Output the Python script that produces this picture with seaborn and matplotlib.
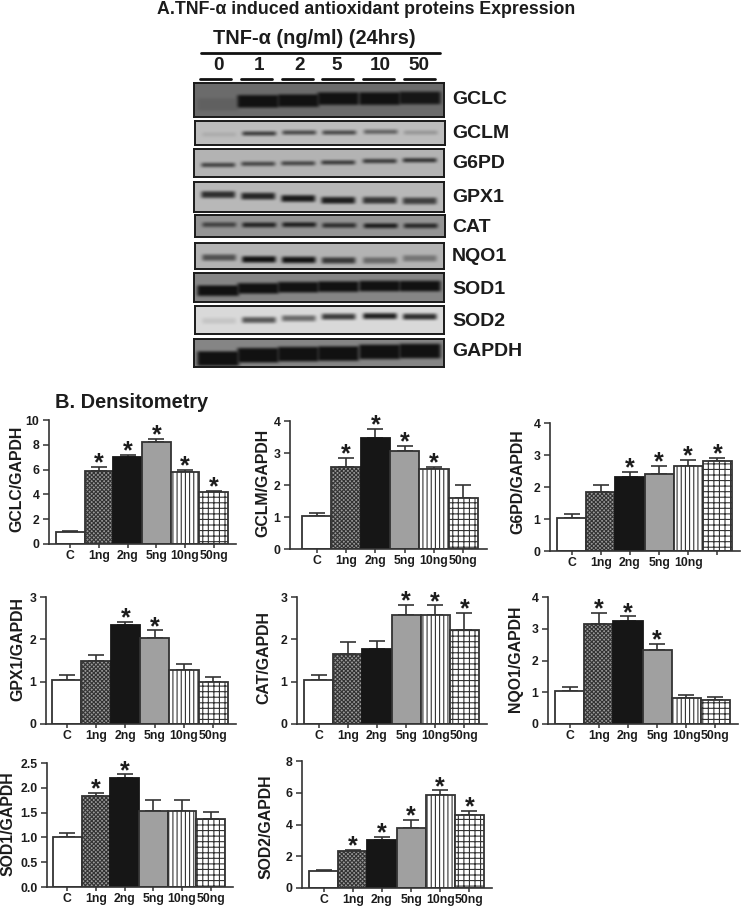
import numpy as np
import pandas as pd
import seaborn as sns
import matplotlib
matplotlib.use("Agg")
import matplotlib.pyplot as plt
from matplotlib.lines import Line2D

sns.set_theme(style="ticks")
plt.rcParams['font.family'] = ['Liberation Sans', 'DejaVu Sans']
plt.rcParams['hatch.linewidth'] = 0.8
W, H = 741, 908
INK = '#1c1c1c'
AX = '#333333'

# ---------- blot data ----------
blot_names = ['GCLC', 'GCLM', 'G6PD', 'GPX1', 'CAT', 'NQO1', 'SOD1', 'SOD2', 'GAPDH']
blot_bg = [0.42, 0.74, 0.70, 0.72, 0.58, 0.70, 0.52, 0.85, 0.52]
blot_half = [6.0, 1.8, 1.7, 3.0, 2.0, 2.8, 5.0, 2.6, 7.0]
blot_dark = [
    [0.12, 1, 1, 1, 1, 0.95],
    [0.10, 0.75, 0.68, 0.68, 0.55, 0.22],
    [0.75, 0.72, 0.72, 0.78, 0.80, 0.85],
    [0.82, 0.88, 0.95, 0.92, 0.78, 0.72],
    [0.65, 0.90, 0.92, 0.80, 0.95, 0.85],
    [0.60, 1, 1, 0.75, 0.45, 0.38],
    [1, 1, 1, 1, 1, 1],
    [0.10, 0.65, 0.55, 0.78, 0.92, 0.85],
    [1, 1, 1, 1, 1, 1],
]
blot_center = [
    [.63, .54, .52, .46, .46, .44],
    [.56, .52, .48, .48, .45, .48],
    [.57, .53, .51, .48, .43, .40],
    [.42, .47, .55, .61, .61, .63],
    [.44, .45, .44, .47, .49, .49],
    [.56, .63, .65, .67, .67, .59],
    [.61, .53, .49, .47, .45, .45],
    [.53, .50, .44, .38, .36, .38],
    [.70, .58, .54, .52, .46, .43],
]
blot_boxes = [(194, 444, 83, 117), (195, 445, 121, 145), (194, 444, 149, 177),
              (194, 444, 182, 212), (195, 445, 215, 237), (195, 444, 243, 269),
              (194, 444, 273, 302), (195, 444, 306, 334), (194, 444, 339, 367)]
blot_label_y = [99, 134, 164, 197, 227, 257, 289, 321, 351]
lane_frac = [.097, .257, .417, .577, .743, .903]
lane_labels = ['0', '1', '2', '5', '10', '50']
lane_label_x = [218, 259, 300, 337, 380, 419]
lane_lines = [(200, 231), (241, 272), (282, 313), (322, 353), (363, 394), (404, 435)]

# ---------- densitometry data ----------
groups = ['C', '1ng', '2ng', '5ng', '10ng', '50ng']
gclc = [1.0, 5.9, 7.0, 8.2, 5.8, 4.2]
gclc_err = [0.02, 0.3, 0.2, 0.3, 0.2, 0.05]
gclm = [1.03, 2.57, 3.47, 3.07, 2.5, 1.6]
gclm_err = [0.1, 0.27, 0.27, 0.14, 0.06, 0.4]
g6pd = [1.03, 1.85, 2.3, 2.4, 2.67, 2.8]
g6pd_err = [0.12, 0.22, 0.17, 0.27, 0.17, 0.12]
gpx1 = [1.03, 1.5, 2.33, 2.04, 1.27, 1.0]
gpx1_err = [0.12, 0.12, 0.08, 0.17, 0.15, 0.12]
cat = [1.03, 1.65, 1.78, 2.57, 2.57, 2.23]
cat_err = [0.12, 0.28, 0.17, 0.24, 0.23, 0.39]
nqo1 = [1.05, 3.14, 3.23, 2.34, 0.82, 0.75]
nqo1_err = [0.13, 0.37, 0.16, 0.18, 0.1, 0.1]
sod1 = [1.01, 1.83, 2.19, 1.53, 1.53, 1.37]
sod1_err = [0.07, 0.07, 0.08, 0.22, 0.22, 0.14]
sod2 = [1.05, 2.3, 3.0, 3.75, 5.85, 4.6]
sod2_err = [0.1, 0.12, 0.22, 0.55, 0.3, 0.27]

panels = [
    ('GCLC/GAPDH', gclc, gclc_err, [1, 2, 3, 4, 5], 10, [0, 2, 4, 6, 8, 10], groups),
    ('GCLM/GAPDH', gclm, gclm_err, [1, 2, 3, 4], 4, [0, 1, 2, 3, 4], groups),
    ('G6PD/GAPDH', g6pd, g6pd_err, [2, 3, 4, 5], 4, [0, 1, 2, 3, 4], groups[:5] + ['']),
    ('GPX1/GAPDH', gpx1, gpx1_err, [2, 3], 3, [0, 1, 2, 3], groups),
    ('CAT/GAPDH', cat, cat_err, [3, 4, 5], 3, [0, 1, 2, 3], groups),
    ('NQO1/GAPDH', nqo1, nqo1_err, [1, 2, 3], 4, [0, 1, 2, 3, 4], groups),
    ('SOD1/GAPDH', sod1, sod1_err, [1, 2], 2.5, [0, .5, 1, 1.5, 2, 2.5], groups),
    ('SOD2/GAPDH', sod2, sod2_err, [1, 2, 3, 4, 5], 8, [0, 2, 4, 6, 8], groups),
]
# layout in pixels: spine x, axis end x, bars left, bars right, top y, zero y, label x, label y
layout = [
    (49, 236, 56, 228, 420, 544, 17, 479),
    (290, 487, 302, 478, 421, 549, 263, 483),
    (550, 740, 557, 732, 423, 551, 518, 482),
    (46, 236, 52, 228, 597, 724, 18, 649),
    (297, 487, 304, 479, 597, 724, 264, 658),
    (548, 738, 555, 730, 597, 724, 516, 659),
    (47, 233, 53, 225, 763, 887, 9, 824),
    (302, 492, 309, 484, 761, 888, 267, 827),
]
bar_face = ['white', '#9a9a9a', '#161616', '#a0a0a0', 'white', 'white']
bar_hatch = [None, 'xxxxxxxx', None, None, '||||', '+++']

fig = plt.figure(figsize=(W / 100, H / 100), dpi=100)


def px_axes(x0, x1, ytop, ybot):
    return fig.add_axes([x0 / W, 1 - ybot / H, (x1 - x0) / W, (ybot - ytop) / H])


def ftext(x, y, s, size, ha='center', va='center', **kw):
    fig.text(x / W, 1 - y / H, s, fontsize=size, fontweight='bold', color=INK, ha=ha, va=va, **kw)


def fline(x0, x1, y, lw=2.0):
    fig.add_artist(Line2D([x0 / W, x1 / W], [1 - y / H, 1 - y / H], color='#111111', lw=lw,
                          transform=fig.transFigure))


def soften(a):
    k = np.array([0.1, 0.25, 0.3, 0.25, 0.1])
    a = np.apply_along_axis(lambda r: np.convolve(np.pad(r, 2, mode='edge'), k, mode='valid'), 0, a)
    return np.apply_along_axis(lambda r: np.convolve(np.pad(r, 2, mode='edge'), k, mode='valid'), 1, a)


# ---------- headers ----------
ftext(366, 9, 'A.TNF-α induced antioxidant proteins Expression', 12.8)
ftext(314, 38, 'TNF-α (ng/ml) (24hrs)', 14.4)
fline(201, 440, 53)
for xc, lab, (a, b) in zip(lane_label_x, lane_labels, lane_lines):
    ftext(xc, 66, lab, 13.6)
    fline(a, b, 79)

# ---------- blots ----------
for name, bg, half, dark, cen, box, ly in zip(blot_names, blot_bg, blot_half, blot_dark,
                                               blot_center, blot_boxes, blot_label_y):
    x0, x1, y0, y1 = box
    nx, ny = (x1 - x0), (y1 - y0)
    xs = (np.arange(nx) + .5) / nx
    ys = (np.arange(ny) + .5)
    img = np.zeros((ny, nx))
    for fr, d, c in zip(lane_frac, dark, cen):
        wid = 0.076 if half < 4 else 0.092
        px_prof = np.clip((wid - np.abs(xs - fr)) / 0.018, 0, 1)
        py_prof = np.clip((half + 1.2 - np.abs(ys - c * ny)) / 2.0, 0, 1)
        img = np.maximum(img, d * np.outer(py_prof, px_prof))
    img = soften(img)
    img = bg * (1 - img) + 0.07 * img
    ax = px_axes(x0, x1, y0, y1)
    sns.heatmap(img, ax=ax, cmap='gray', vmin=0, vmax=1, cbar=False,
                xticklabels=False, yticklabels=False, rasterized=True)
    ax.tick_params(length=0)
    for s in ax.spines.values():
        s.set_visible(True)
        s.set_color('#1a1a1a')
        s.set_linewidth(1.4)
    ftext(452, ly, name, 14, ha='left')

ftext(55, 403, 'B. Densitometry', 14.4, ha='left')

# ---------- bar panels ----------
for (ylab, vals, errs, stars, ymax, yticks, xlabs), lay in zip(panels, layout):
    sx, ex, bl, br, yt, yb, lx, ly = lay
    ax = px_axes(sx, ex, yt, yb)
    df = pd.DataFrame({'group': groups, 'value': vals})
    sns.barplot(data=df, x='group', y='value', order=groups, width=1.0, color='white',
                errorbar=None, ax=ax, linewidth=1.3, edgecolor=AX, zorder=2)
    for p, fc, h in zip(ax.patches, bar_face, bar_hatch):
        p.set_facecolor(fc)
        if h:
            p.set_hatch(h)
        if fc == '#161616':
            p.set_edgecolor('#161616')
    xpos = np.arange(len(groups))
    ax.errorbar(xpos, vals, yerr=[np.zeros(6), errs], fmt='none', ecolor=AX,
                elinewidth=1.2, capsize=6, capthick=1.2, zorder=1)
    for i in stars:
        ax.annotate('*', (i, vals[i] + errs[i]), xytext=(0, -2.5), textcoords='offset points',
                    ha='center', va='baseline', fontsize=18, fontweight='bold', color=INK,
                    annotation_clip=False)
    bw = (br - bl) / 6
    ax.set_xlim(-0.5 - (bl - sx) / bw, 5.5 + (ex - br) / bw)
    ax.set_ylim(0, ymax)
    ax.set_yticks(yticks)
    if ymax == 2.5:
        ax.set_yticklabels([f'{t:.1f}' for t in yticks])
    else:
        ax.set_yticklabels([str(t) for t in yticks])
    ax.set_xticks(xpos)
    ax.set_xticklabels(xlabs)
    ax.set_xlabel('')
    ax.set_ylabel(ylab, fontsize=11.4, fontweight='bold', color=INK)
    ax.yaxis.set_label_coords((lx + 7 - sx) / (ex - sx), (yb - ly) / (yb - yt))
    ax.tick_params(axis='both', labelsize=8.8, color=AX, labelcolor=INK, width=1.1)
    ax.tick_params(axis='x', length=3, pad=1.5)
    ax.tick_params(axis='y', length=4.5, pad=2.5)
    for t in ax.get_xticklabels() + ax.get_yticklabels():
        t.set_fontweight('bold')
    sns.despine(ax=ax)
    ax.patch.set_alpha(0)
    for s in ('left', 'bottom'):
        ax.spines[s].set_linewidth(1.2)
        ax.spines[s].set_color(AX)

fig.savefig('out.png', dpi=100)
